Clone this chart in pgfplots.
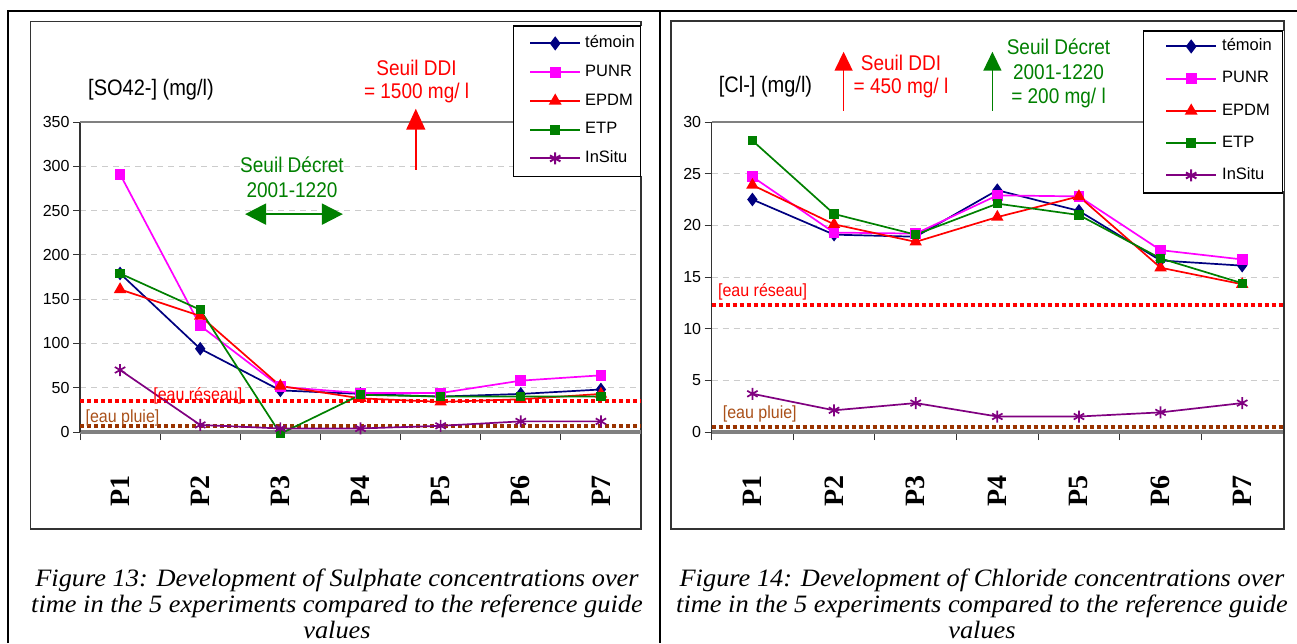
\documentclass[border=0pt]{standalone}
\usepackage{fontspec}
\setmainfont{Liberation Sans}
\newfontfamily\tnr{Liberation Serif}
\usepackage{pgfplots}
\pgfplotsset{compat=1.18}
\usetikzlibrary{arrows.meta}

\definecolor{cnavy}{RGB}{0,0,128}
\definecolor{cmag}{RGB}{255,0,255}
\definecolor{cred}{RGB}{255,0,0}
\definecolor{cgreen}{RGB}{0,128,0}
\definecolor{cpurple}{RGB}{128,0,128}
\definecolor{cbrown}{RGB}{153,51,0}
\definecolor{cbrowntxt}{RGB}{170,80,25}

\tikzset{annot/.style={font=\fontsize{19}{23}\selectfont, yscale=1.12}}

\pgfplotsset{
 mychart/.style={
  scale only axis, height=310pt, clip=false,
  xmin=0.5, xmax=7.5, ymin=0,
  xtick={1,2,3,4,5,6,7}, xticklabels={P1,P2,P3,P4,P5,P6,P7},
  minor xtick={0.5,1.5,2.5,3.5,4.5,5.5,6.5,7.5},
  tick align=outside,
  major tick length=7pt, minor tick length=8pt,
  major x tick style={draw=none},
  minor x tick style={black!80, line width=0.9pt},
  major y tick style={black!80, line width=0.9pt},
  axis x line*=bottom, axis y line*=left,
  x axis line style={-, gray, line width=4pt},
  y axis line style={-, black!80, line width=1.2pt},
  ymajorgrids, grid style={gray!40, dash pattern=on 6pt off 5pt, line width=0.8pt},
  xticklabel style={rotate=90, anchor=east, font=\tnr\bfseries\fontsize{28}{28}\selectfont},
  xticklabel shift=33pt,
  yticklabel style={font=\fontsize{16}{19}\selectfont},
  /pgf/number format/assume math mode=true,
  legend cell align=left,
  legend image post style={line width=2pt},
  legend style={font=\fontsize{16.5}{19}\selectfont, draw=none, fill=white, anchor=north west,
     nodes={inner sep=0pt, text height=12pt, text depth=3.5pt}},
 },
 s1/.style={cnavy, line width=1.7pt, mark=diamond*, mark size=5.5pt, mark options={solid, fill=cnavy}},
 s2/.style={cmag, line width=1.7pt, mark=square*, mark size=4.5pt, mark options={solid, fill=cmag}},
 s3/.style={cred, line width=1.7pt, mark=triangle*, mark size=5.5pt, mark options={solid, fill=cred}},
 s4/.style={cgreen, line width=1.7pt, mark=square*, mark size=3.8pt, mark options={solid, fill=cgreen}},
 s5/.style={cpurple, line width=1.7pt, mark=asterisk, mark size=6pt, mark options={solid}},
 refred/.style={cred, line width=4pt, dash pattern=on 4pt off 3pt, forget plot},
 refbrown/.style={cbrown, line width=4pt, dash pattern=on 4pt off 3pt, forget plot},
}

\begin{document}
\begin{tikzpicture}
\useasboundingbox (0pt,0pt) rectangle (1297pt,-643pt);
\fill[white] (0pt,0pt) rectangle (1297pt,-643pt);
% outer page lines
\draw[black, line width=2pt] (8pt,-643pt) -- (8pt,-11pt) -- (1297pt,-11pt);
\draw[black, line width=2pt] (660pt,-11pt) -- (660pt,-643pt);
% chart frames
\draw[black!80, line width=1.5pt] (30.5pt,-21.5pt) rectangle (641pt,-529pt);
\draw[black!80, line width=1.5pt] (671pt,-21pt) rectangle (1284pt,-529pt);

% ---------- Left: sulphate ----------
\begin{axis}[mychart, at={(80pt,-432pt)}, anchor=south west, width=561pt,
  ymax=350, ytick={0,50,100,150,200,250,300,350},
  legend image code/.code={\path (0pt,0pt); \draw[mark repeat=2,mark phase=2,#1] plot coordinates {(6pt,0pt) (31pt,0pt) (56pt,0pt)};},
  legend style={at={(axis description cs:0.7724,1.3097)}, inner xsep=9.7pt, inner ysep=9.5pt, row sep=13.25pt, column sep=4pt}]
\draw[gray, line width=1.2pt] (rel axis cs:0,1) -- (rel axis cs:1,1);
\addplot[refred] coordinates {(0.5,35) (7.5,35)};
\addplot[refbrown] coordinates {(0.5,7) (7.5,7)};
\addplot[s1] coordinates {(1,179) (2,94) (3,47) (4,43) (5,40) (6,43) (7,48)};
\addlegendentry{témoin}
\addplot[s2] coordinates {(1,291) (2,120) (3,51) (4,44) (5,44) (6,58) (7,64)};
\addlegendentry{PUNR}
\addplot[s3] coordinates {(1,161) (2,131) (3,52) (4,38) (5,34) (6,37) (7,43)};
\addlegendentry{EPDM}
\addplot[s4] coordinates {(1,179) (2,138) (3,-2) (4,42) (5,40) (6,40) (7,40)};
\addlegendentry{ETP}
\addplot[s5] coordinates {(1,70) (2,8) (3,4) (4,4) (5,7) (6,12) (7,12)};
\addlegendentry{InSitu}
\node[font=\fontsize{20}{24}\selectfont, yscale=1.12] at (axis cs:1.386,386.6) {[SO42-] (mg/l)};
\node[text=cred, annot] at (axis cs:4.70,411) {Seuil DDI};
\node[text=cred, annot] at (axis cs:4.70,383) {= 1500 mg/ l};
\draw[cred, line width=1.5pt, -{Triangle[width=19pt,length=21pt]}] (axis cs:4.69,296) -- (axis cs:4.69,365);
\node[text=cgreen, annot] at (axis cs:3.145,301.5) {Seuil Décret};
\node[text=cgreen, annot] at (axis cs:3.145,273) {2001-1220};
\draw[cgreen, line width=2pt, {Triangle[width=21pt,length=21pt]}-{Triangle[width=21pt,length=21pt]}] (axis cs:2.56,246) -- (axis cs:3.78,246);
\node[text=cred, font=\fontsize{16}{19}\selectfont, yscale=1.1] at (axis cs:1.97,40.8) {[eau réseau]};
\node[text=cbrowntxt, font=\fontsize{16}{19}\selectfont, yscale=1.1] at (axis cs:1.03,15.4) {[eau pluie]};
\end{axis}
\draw[black, line width=1.2pt] (513.3pt,-26pt) rectangle (640.5pt,-176.7pt);

% ---------- Right: chloride ----------
\begin{axis}[mychart, at={(711.6pt,-432pt)}, anchor=south west, width=571.4pt,
  ymax=30, ytick={0,5,10,15,20,25,30},
  legend image code/.code={\path (0pt,0pt); \draw[mark repeat=2,mark phase=2,#1] plot coordinates {(9pt,0pt) (34pt,0pt) (59pt,0pt)};},
  legend style={at={(axis description cs:0.7555,1.2935)}, inner xsep=12.7pt, inner ysep=7.5pt, row sep=16.75pt, column sep=5pt}]
\draw[gray, line width=1.2pt] (rel axis cs:0,1) -- (rel axis cs:1,1);
\addplot[refred] coordinates {(0.5,12.3) (7.5,12.3)};
\addplot[refbrown] coordinates {(0.5,0.45) (7.5,0.45)};
\addplot[s1] coordinates {(1,22.5) (2,19.1) (3,18.9) (4,23.4) (5,21.4) (6,16.6) (7,16.1)};
\addlegendentry{témoin}
\addplot[s2] coordinates {(1,24.7) (2,19.3) (3,19.2) (4,22.9) (5,22.8) (6,17.6) (7,16.7)};
\addlegendentry{PUNR}
\addplot[s3] coordinates {(1,23.9) (2,20.1) (3,18.4) (4,20.8) (5,22.8) (6,15.9) (7,14.3)};
\addlegendentry{EPDM}
\addplot[s4] coordinates {(1,28.2) (2,21.1) (3,19.1) (4,22.1) (5,21.0) (6,16.8) (7,14.4)};
\addlegendentry{ETP}
\addplot[s5] coordinates {(1,3.7) (2,2.1) (3,2.8) (4,1.5) (5,1.5) (6,1.9) (7,2.8)};
\addlegendentry{InSitu}
\node[font=\fontsize{20}{24}\selectfont, yscale=1.12] at (axis cs:1.16,33.4) {[Cl-] (mg/l)};
\draw[cred, line width=1.5pt, -{Triangle[width=18pt,length=19pt]}] (axis cs:2.117,31.1) -- (axis cs:2.117,36.8);
\node[text=cred, annot] at (axis cs:2.82,35.7) {Seuil DDI};
\node[text=cred, annot] at (axis cs:2.82,33.3) {= 450 mg/ l};
\draw[cgreen, line width=1.5pt, -{Triangle[width=18pt,length=19pt]}] (axis cs:3.94,31.1) -- (axis cs:3.94,36.8);
\node[text=cgreen, annot] at (axis cs:4.75,37.27) {Seuil Décret};
\node[text=cgreen, annot] at (axis cs:4.75,34.84) {2001-1220};
\node[text=cgreen, annot] at (axis cs:4.75,32.37) {= 200 mg/ l};
\node[text=cred, font=\fontsize{16}{19}\selectfont, yscale=1.1] at (axis cs:1.125,13.6) {[eau réseau]};
\node[text=cbrowntxt, font=\fontsize{16}{19}\selectfont, yscale=1.1] at (axis cs:1.09,1.76) {[eau pluie]};
\end{axis}
\draw[black, line width=1.2pt] (1143.3pt,-31pt) rectangle (1282.5pt,-193pt);

% captions
\begin{scope}[every node/.style={font=\tnr\itshape\fontsize{25}{26}\selectfont, xscale=1.055, anchor=base, inner sep=0pt}]
\node at (337pt,-586pt) {Figure 13: Development of Sulphate concentrations over};
\node at (337pt,-612pt) {time in the 5 experiments compared to the reference guide};
\node at (337pt,-638pt) {values};
\node at (982pt,-586pt) {Figure 14: Development of Chloride concentrations over};
\node at (982pt,-612pt) {time in the 5 experiments compared to the reference guide};
\node at (982pt,-638pt) {values};
\end{scope}
\end{tikzpicture}
\end{document}
